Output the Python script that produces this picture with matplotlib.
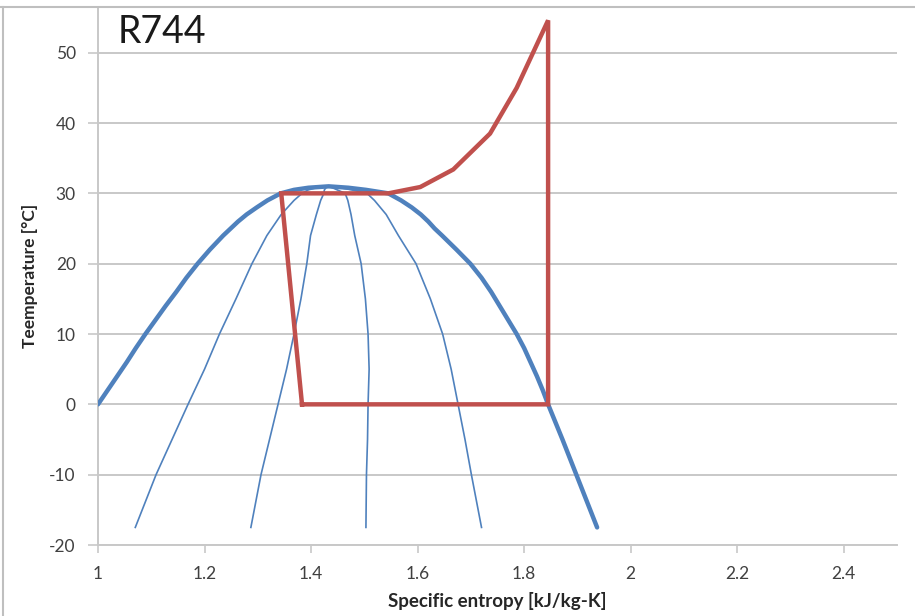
import matplotlib
matplotlib.use("Agg")
import matplotlib.pyplot as plt
from matplotlib.lines import Line2D

# saturation dome of CO2 (liquid side from 0 C, vapour side down to -17.5 C)
t_liq = [0, 2, 4, 6, 8, 10, 12, 14, 16, 18, 20, 22, 24, 26, 27, 28, 29, 30, 30.5, 30.8, 31]
s_liq = [1.000, 1.018, 1.036, 1.054, 1.071, 1.089, 1.108, 1.127, 1.147, 1.166, 1.187,
         1.210, 1.235, 1.263, 1.279, 1.298, 1.318, 1.343, 1.368, 1.395, 1.433]
t_vap = [31, 30.8, 30.5, 30, 29, 28, 27, 26, 25, 24, 22, 20, 18, 16, 15, 14, 12, 10,
         8, 6, 4, 2, 0, -5, -10, -15, -17.5]
s_vap = [1.433, 1.470, 1.503, 1.545, 1.569, 1.589, 1.606, 1.620, 1.632, 1.646, 1.673,
         1.699, 1.720, 1.738, 1.746, 1.754, 1.770, 1.786, 1.800, 1.812, 1.824, 1.835,
         1.845, 1.872, 1.898, 1.924, 1.937]

# constant quality lines x = 0.2, 0.4, 0.6, 0.8
t_q = [-17.5, -10, -5, 0, 5, 10, 15, 20, 24, 27, 29, 30, 30.5, 30.8, 31]
s_q20 = [1.070, 1.109, 1.139, 1.169, 1.200, 1.228, 1.259, 1.289, 1.317, 1.344, 1.368,
         1.383, 1.395, 1.410, 1.433]
s_q40 = [1.287, 1.306, 1.322, 1.338, 1.354, 1.368, 1.381, 1.392, 1.399, 1.410, 1.418,
         1.424, 1.425, 1.428, 1.433]
s_q60 = [1.503, 1.504, 1.506, 1.507, 1.509, 1.507, 1.502, 1.494, 1.482, 1.475, 1.469,
         1.464, 1.449, 1.440, 1.433]
s_q80 = [1.720, 1.701, 1.689, 1.676, 1.663, 1.647, 1.624, 1.597, 1.564, 1.541, 1.519,
         1.505, 1.476, 1.455, 1.433]

# transcritical cycle
s_cycle = [1.383, 1.845, 1.845, 1.786, 1.736, 1.667, 1.605, 1.545, 1.344, 1.383]
t_cycle = [0, 0, 54.6, 45.0, 38.5, 33.4, 30.9, 30.0, 30.0, 0]

x_ticks = [1, 1.2, 1.4, 1.6, 1.8, 2, 2.2, 2.4]
x_labels = ["1", "1.2", "1.4", "1.6", "1.8", "2", "2.2", "2.4"]
y_ticks = [-20, -10, 0, 10, 20, 30, 40, 50]

blue = "#4F81BD"
red = "#C0504D"
grey = "#C8C8C8"

plt.rcParams["font.family"] = ["Lato", "DejaVu Sans"]
plt.rcParams["axes.unicode_minus"] = False

W, H = 915, 616
fig = plt.figure(figsize=(W / 100, H / 100), dpi=100)
ax = fig.add_axes([98 / W, (H - 545) / H, (897 - 98) / W, (545 - 7) / H])

for s in (s_q20, s_q40, s_q60, s_q80):
    ax.plot(s, t_q, color=blue, lw=1.2, zorder=3)
ax.plot(s_liq + s_vap, t_liq + t_vap, color=blue, lw=3.2, zorder=4,
        solid_capstyle="round", solid_joinstyle="round")
ax.plot(s_cycle, t_cycle, color=red, lw=3.2, zorder=5, solid_joinstyle="miter")

ax.set_xlim(1, 2.5)
ax.set_ylim(-20, 56.5)
ax.set_xticks(x_ticks)
ax.set_xticklabels(x_labels)
ax.set_yticks(y_ticks)
ax.grid(axis="y", color=grey, lw=1.4)
ax.set_axisbelow(True)

for side in ("top", "right"):
    ax.spines[side].set_visible(False)
for side in ("left", "bottom"):
    ax.spines[side].set_color(grey)
    ax.spines[side].set_linewidth(1.4)
ax.tick_params(axis="both", colors=grey, width=1.2, labelsize=12.5,
               labelcolor="#404040")
ax.tick_params(axis="y", length=7, pad=9)
ax.tick_params(axis="x", length=6, pad=9)

ax.set_xlabel("Specific entropy [kJ/kg-K]", fontsize=13.5, fontweight="bold",
              color="#262626", labelpad=7)
ax.set_ylabel("Teemperature [°C]", fontsize=12.5, fontweight="bold",
              color="#262626", labelpad=8)

fig.text(118 / W, 1 - 43 / H, "R744", fontsize=27, color="#1a1a1a",
         ha="left", va="baseline")

# chart frame (top and left edges)
fig.add_artist(Line2D([0, 1], [1 - 7 / H, 1 - 7 / H], color="#BFBFBF", lw=1.5))
fig.add_artist(Line2D([3 / W, 3 / W], [0, 1 - 7 / H], color="#BFBFBF", lw=1.5))

fig.savefig("out.png", dpi=100)
